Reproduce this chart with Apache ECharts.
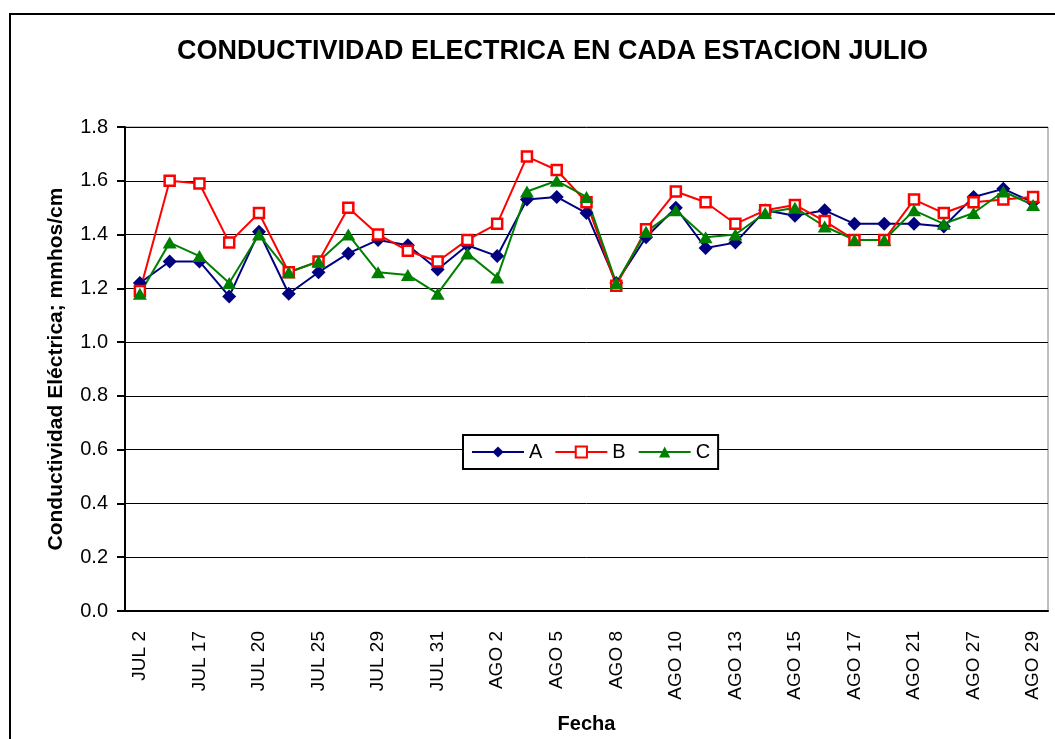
<!DOCTYPE html>
<html>
<head>
<meta charset="utf-8">
<script src="https://cdn.jsdelivr.net/npm/echarts@6/dist/echarts.min.js"></script>
<style>
  html, body { margin: 0; padding: 0; background: #fff; }
  #chart { width: 1055px; height: 739px; }
</style>
</head>
<body>
<div id="chart"></div>
<script>
// fechas de muestreo (solo se rotulan una de cada dos)
const fechas = [
  'JUL 2', '', 'JUL 17', '', 'JUL 20', '', 'JUL 25', '', 'JUL 29', '', 'JUL 31',
  '', 'AGO 2', '', 'AGO 5', '', 'AGO 8', '', 'AGO 10', '', 'AGO 13',
  '', 'AGO 15', '', 'AGO 17', '', 'AGO 21', '', 'AGO 27', '', 'AGO 29'
];

const estacionA = [1.22, 1.30, 1.30, 1.17, 1.41, 1.18, 1.26, 1.33, 1.38, 1.36, 1.27,
  1.36, 1.32, 1.53, 1.54, 1.48, 1.22, 1.39, 1.50, 1.35, 1.37,
  1.49, 1.47, 1.49, 1.44, 1.44, 1.44, 1.43, 1.54, 1.57, 1.52];
const estacionB = [1.19, 1.60, 1.59, 1.37, 1.48, 1.26, 1.30, 1.50, 1.40, 1.34, 1.30,
  1.38, 1.44, 1.69, 1.64, 1.52, 1.21, 1.42, 1.56, 1.52, 1.44,
  1.49, 1.51, 1.45, 1.38, 1.38, 1.53, 1.48, 1.52, 1.53, 1.54];
const estacionC = [1.18, 1.37, 1.32, 1.22, 1.40, 1.26, 1.30, 1.40, 1.26, 1.25, 1.18,
  1.33, 1.24, 1.56, 1.60, 1.54, 1.22, 1.41, 1.49, 1.39, 1.40,
  1.48, 1.50, 1.43, 1.38, 1.38, 1.49, 1.44, 1.48, 1.56, 1.51];

const font = 'Arial, "Liberation Sans", sans-serif';

const myChart = echarts.init(document.getElementById('chart'));

const option = {
  animation: false,
  textStyle: { fontFamily: font, color: '#000' },
  title: {
    text: 'CONDUCTIVIDAD ELECTRICA EN CADA ESTACION JULIO',
    left: 177,
    top: 38,
    padding: 0,
    textStyle: { fontFamily: font, fontSize: 27, fontWeight: 'bold', color: '#000' }
  },
  graphic: [{
    type: 'rect',
    silent: true,
    shape: { x: 10, y: 14, width: 1200, height: 800 },
    style: { fill: 'none', stroke: '#000', lineWidth: 2 }
  }],
  legend: {
    left: 463,
    top: 435,
    padding: [7, 8],
    itemWidth: 52,
    itemHeight: 14,
    itemGap: 12,
    borderColor: '#000',
    borderWidth: 2,
    backgroundColor: '#fff',
    textStyle: { fontFamily: font, fontSize: 20, color: '#000' },
    data: ['A', 'B', 'C']
  },
  grid: {
    left: 125,
    right: 7,
    top: 127,
    bottom: 119,
    show: true,
    borderColor: '#808080',
    borderWidth: 1
  },
  xAxis: {
    type: 'category',
    data: fechas,
    boundaryGap: true,
    name: 'Fecha',
    nameLocation: 'middle',
    nameGap: 103,
    nameTextStyle: { fontFamily: font, fontSize: 20, fontWeight: 'bold', color: '#000' },
    axisLine: { lineStyle: { color: '#000', width: 2 } },
    axisTick: { interval: 0, length: 5, lineStyle: { color: '#000', width: 2 } },
    axisLabel: { interval: 1, rotate: 90, margin: 20, fontSize: 19, color: '#000', fontFamily: font }
  },
  yAxis: {
    type: 'value',
    min: 0,
    max: 1.8,
    interval: 0.2,
    name: 'Conductividad Eléctrica; mmhos/cm',
    nameLocation: 'middle',
    nameGap: 58,
    nameTextStyle: { fontFamily: font, fontSize: 21, fontWeight: 'bold', color: '#000' },
    axisLine: { show: true, lineStyle: { color: '#000', width: 2 } },
    axisTick: { show: true, length: 8, lineStyle: { color: '#000', width: 2 } },
    axisLabel: {
      margin: 17, fontSize: 20, color: '#000', fontFamily: font,
      formatter: v => v.toFixed(1)
    },
    splitLine: { lineStyle: { color: '#000', width: 1 } }
  },
  series: [
    {
      name: 'A',
      type: 'line',
      data: estacionA,
      symbol: 'diamond',
      symbolSize: 14,
      color: '#000080',
      lineStyle: { color: '#000080', width: 2 },
      itemStyle: { color: '#000080' }
    },
    {
      name: 'B',
      type: 'line',
      data: estacionB,
      symbol: 'rect',
      symbolSize: 10,
      color: '#ff0000',
      lineStyle: { color: '#ff0000', width: 2 },
      itemStyle: { color: '#fff', borderColor: '#ff0000', borderWidth: 2.5 }
    },
    {
      name: 'C',
      type: 'line',
      data: estacionC,
      symbol: 'triangle',
      symbolSize: [14, 12],
      color: '#008000',
      lineStyle: { color: '#008000', width: 2 },
      itemStyle: { color: '#008000' }
    }
  ]
};

myChart.setOption(option);
</script>
</body>
</html>
